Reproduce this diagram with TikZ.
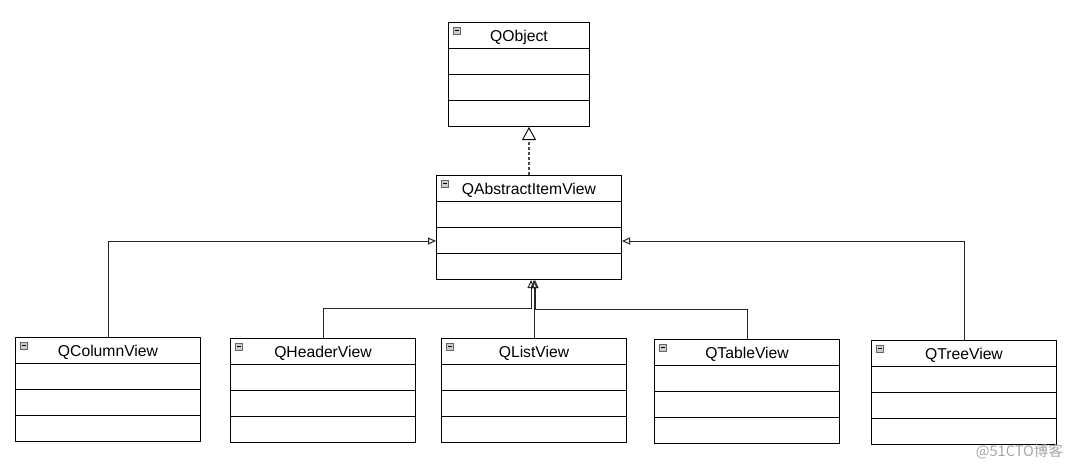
\documentclass[tikz,border=0pt]{standalone}
\usepackage{fontspec}
\setmainfont{Liberation Sans}
\newfontfamily\cjk{Noto Sans CJK SC}
\usetikzlibrary{arrows.meta,calc}
\newcommand\umlclass[5]{%
  \node[classbox, minimum width=#4] (#1) at (#2,#3) {};
  \draw[rowline] ($(#1.north west)+(0,26)$) -- ($(#1.north east)+(0,26)$);
  \draw[rowline] ($(#1.north west)+(0,52)$) -- ($(#1.north east)+(0,52)$);
  \draw[rowline] ($(#1.north west)+(0,78)$) -- ($(#1.north east)+(0,78)$);
  \node[titletext] (#1-title) at ($(#1.north)+(0,15.5)$) {#5};
  \draw[iconbox] ($(#1.north west)+(5,5)$) rectangle ($(#1.north west)+(12,12)$);
  \draw[iconminus] ($(#1.north west)+(6.5,8.5)$) -- ($(#1.north west)+(10.5,8.5)$);
}
\begin{document}
\begin{tikzpicture}[x=1pt,y=-1pt,
  classbox/.style={draw=black, line width=1pt, minimum height=104pt, inner sep=0pt, anchor=north west, fill=white},
  rowline/.style={draw=black, line width=1pt},
  titletext/.style={font=\fontsize{15.7}{18}\selectfont, text=black, inner sep=0pt},
  iconbox/.style={draw=black!60, fill=black!20, line width=0.6pt},
  iconminus/.style={draw=black, line width=0.8pt},
  conn/.style={draw=black!85, line width=1pt},
  smallhead/.style={-{Triangle[open,length=8pt,width=7pt]}},
  bighead/.style={-{Triangle[open,length=13pt,width=14pt]}},
  realize/.style={draw=black!70, line width=1.2pt, dash pattern=on 3pt off 2pt},
]
\useasboundingbox (0,0) rectangle (1069,467);
\fill[white] (0,0) rectangle (1069,467);

\umlclass{qobj}{448}{22}{141}{QObject}
\umlclass{aiv}{436}{175}{185}{QAbstractItemView}
\umlclass{col}{15}{337}{185}{QColumnView}
\umlclass{hdr}{230}{338}{185}{QHeaderView}
\umlclass{lst}{441}{338}{185}{QListView}
\umlclass{tbl}{654}{339}{185}{QTableView}
\umlclass{tree}{871}{340}{185}{QTreeView}

% realization QAbstractItemView -> QObject
\draw[realize] (aiv.north) -- ($(aiv.north |- qobj.south)+(0,14)$);
\draw[bighead, draw=black, line width=0.9pt, dash pattern=on 0pt off 1pt] ($(aiv.north |- qobj.south)+(0,14)$) -- (aiv.north |- qobj.south);

% side connectors
\coordinate (aivL) at ($(aiv.north west)+(0,66)$);
\coordinate (aivR) at ($(aiv.north east)+(0,66)$);
\draw[conn, smallhead] (col.north) |- (aivL);
\draw[conn, smallhead] (tree.north) |- (aivR);

% bottom connectors
\coordinate (j1) at (531,308);
\coordinate (j2) at (535,309);
\draw[conn, smallhead] (hdr.north) |- (j1) -- (j1 |- aiv.south);
\draw[conn, smallhead] (lst.north) -- (lst.north |- aiv.south);
\draw[conn, smallhead] (tbl.north) |- (j2) -- (j2 |- aiv.south);

% watermark
\node[text=black!35, font=\cjk\fontsize{14.5}{16}\selectfont, anchor=east, inner sep=0pt] (wm) at (1063,452) {@51CTO博客};
\end{tikzpicture}
\end{document}
